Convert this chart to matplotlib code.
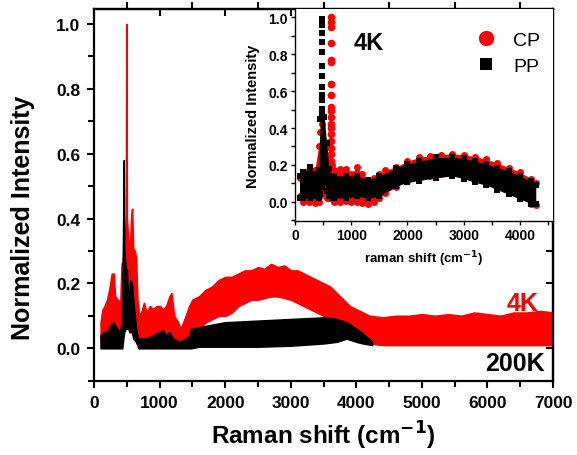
import matplotlib
matplotlib.use('Agg')
import matplotlib.pyplot as plt
from matplotlib.lines import Line2D
from matplotlib.ticker import MultipleLocator

plt.rcParams['font.family'] = ['Liberation Sans', 'DejaVu Sans']
plt.rcParams['font.weight'] = 'bold'

# main panel: 4K (red) band, upper / lower edge of the noisy trace
red_x = [100, 130, 160, 200, 240, 270, 300, 320, 360, 400, 420, 440, 470, 485, 492, 500,
         520, 545, 565, 580, 595, 620, 640, 660, 690, 720, 760, 800, 850, 900, 950, 1000,
         1050, 1100, 1150, 1180, 1220, 1280, 1320, 1380, 1450, 1500, 1600, 1700, 1800,
         1900, 2000, 2100, 2200, 2300, 2400, 2500, 2600, 2700, 2800, 2900, 3000, 3100,
         3200, 3300, 3400, 3500, 3600, 3700, 3800, 3900, 4000, 4100, 4200, 4400, 4600,
         4800, 5000, 5200, 5400, 5600, 5800, 6000, 6200, 6400, 6600, 6800, 7000]
red_hi = [0.08, 0.12, 0.13, 0.15, 0.19, 0.23, 0.23, 0.16, 0.15, 0.14, 0.26, 0.27, 0.35, 0.40, 1.00, 0.40,
          0.34, 0.30, 0.40, 0.43, 0.31, 0.30, 0.28, 0.15, 0.10, 0.11, 0.14, 0.11, 0.13, 0.12, 0.13, 0.13,
          0.12, 0.13, 0.16, 0.17, 0.10, 0.08, 0.06, 0.09, 0.13, 0.15, 0.16, 0.18, 0.19,
          0.21, 0.22, 0.22, 0.23, 0.24, 0.24, 0.25, 0.245, 0.26, 0.25, 0.255, 0.24, 0.24,
          0.23, 0.22, 0.21, 0.20, 0.19, 0.17, 0.15, 0.13, 0.12, 0.11, 0.10, 0.095, 0.10,
          0.10, 0.105, 0.10, 0.105, 0.10, 0.11, 0.105, 0.10, 0.11, 0.11, 0.115, 0.11]
red_lo = [0.02, 0.02, 0.02, 0.02, 0.02, 0.02, 0.02, 0.02, 0.02, 0.02, 0.05, 0.05, 0.06, 0.08, 0.08, 0.08,
          0.06, 0.05, 0.07, 0.07, 0.06, 0.06, 0.04, 0.02, 0.00, 0.01, 0.01, 0.01, 0.01, 0.01, 0.01, 0.01,
          0.01, 0.01, 0.01, 0.01, 0.01, 0.01, 0.01, 0.02, 0.04, 0.05, 0.06, 0.08, 0.09,
          0.10, 0.10, 0.11, 0.13, 0.14, 0.15, 0.15, 0.155, 0.16, 0.16, 0.155, 0.15, 0.14,
          0.13, 0.12, 0.11, 0.10, 0.085, 0.07, 0.055, 0.04, 0.03, 0.02, 0.015, 0.01, 0.01,
          0.01, 0.01, 0.01, 0.01, 0.01, 0.01, 0.01, 0.01, 0.01, 0.01, 0.01, 0.01]

# main panel: 200K (black) band
blk_x = [100, 150, 200, 250, 300, 350, 400, 430, 445, 452, 460, 480, 500, 520, 540, 555,
         575, 600, 640, 680, 700, 800, 900, 1000, 1050, 1100, 1150, 1200, 1300, 1400,
         1450, 1480, 1600, 2000, 2500, 3000, 3500, 3700, 3850, 4000, 4100, 4240]
blk_hi = [0.04, 0.05, 0.05, 0.07, 0.08, 0.06, 0.05, 0.10, 0.40, 0.58, 0.30, 0.25, 0.24, 0.14, 0.18, 0.21,
          0.20, 0.14, 0.06, 0.02, 0.03, 0.03, 0.04, 0.05, 0.055, 0.04, 0.05, 0.03, 0.02, 0.03,
          0.04, 0.06, 0.065, 0.08, 0.085, 0.09, 0.095, 0.09, 0.08, 0.06, 0.045, 0.02]
blk_lo = [0.0, 0.0, 0.0, 0.0, 0.0, 0.0, 0.0, 0.0, 0.03, 0.04, 0.05, 0.06, 0.06, 0.07, 0.05, 0.05,
          0.05, 0.03, 0.02, 0.0, 0.0, 0.0, 0.0, 0.0, 0.0, 0.0, 0.0, 0.0, 0.0, 0.0,
          0.0, 0.0, 0.005, 0.005, 0.005, 0.008, 0.015, 0.02, 0.03, 0.02, 0.015, 0.01]

# inset: CP and PP bands at 4K
cp_x = [80, 150, 250, 350, 420, 450, 480, 520, 560, 600, 650, 700, 800, 900, 1000, 1100,
        1200, 1300, 1400, 1500, 1600, 1800, 2000, 2200, 2400, 2600, 2800, 3000, 3200,
        3400, 3600, 3800, 4000, 4200, 4280]
cp_hi = [0.13, 0.16, 0.17, 0.17, 0.30, 0.38, 0.42, 0.33, 0.30, 0.25, 0.20, 0.17, 0.175, 0.18, 0.15, 0.19,
         0.15, 0.12, 0.13, 0.15, 0.17, 0.19, 0.22, 0.24, 0.25, 0.255, 0.26, 0.255, 0.245,
         0.23, 0.21, 0.185, 0.16, 0.125, 0.10]
cp_lo = [0.03, 0.0, 0.0, -0.005, 0.0, 0.03, 0.05, 0.05, 0.02, 0.02, 0.02, 0.0, 0.0, 0.005, 0.0, 0.0,
         -0.005, -0.01, 0.0, 0.02, 0.045, 0.08, 0.115, 0.13, 0.14, 0.15, 0.155, 0.14, 0.12,
         0.105, 0.08, 0.055, 0.03, -0.01, -0.02]
pp_x = [80, 150, 270, 350, 420, 450, 480, 520, 560, 600, 650, 700, 900, 1100, 1300, 1500,
        1800, 2000, 2200, 2500, 2800, 3000, 3200, 3400, 3600, 3800, 4000, 4200, 4280]
pp_hi = [0.14, 0.16, 0.19, 0.15, 0.17, 0.45, 0.48, 0.46, 0.32, 0.18, 0.13, 0.14, 0.14, 0.14, 0.12, 0.14,
         0.185, 0.205, 0.22, 0.24, 0.24, 0.235, 0.22, 0.205, 0.185, 0.165, 0.14, 0.11, 0.09]
pp_lo = [0.02, 0.02, 0.02, 0.03, 0.02, 0.04, 0.08, 0.10, 0.06, 0.03, 0.02, 0.02, 0.02, 0.03, 0.02, 0.03,
         0.085, 0.105, 0.115, 0.13, 0.14, 0.125, 0.105, 0.09, 0.065, 0.04, 0.015, -0.01, -0.015]

# stacked points of the sharp peaks in the inset
cp_peak_x = 640
cp_peak_y = [0.22, 0.26, 0.29, 0.33, 0.37, 0.40, 0.42, 0.46, 0.49, 0.515, 0.58,
             0.64, 0.76, 0.77, 0.86, 0.95, 0.975, 1.0]
pp_peak_x = 488
pp_peak_y = [0.505, 0.55, 0.58, 0.62, 0.68, 0.735, 0.81, 0.865, 0.915, 0.96, 0.99]

fig = plt.figure(figsize=(5.77, 4.56), dpi=100)
ax = fig.add_axes([0.163, 0.163, 0.7955, 0.815])

ax.fill_between(red_x, red_lo, red_hi, color='#ff0000', lw=1.2, edgecolor='#ff0000')
ax.fill_between(blk_x, blk_lo, blk_hi, color='black', lw=1.2, edgecolor='black')

ax.set_xlim(0, 7000)
ax.set_ylim(-0.1, 1.046)
ax.xaxis.set_major_locator(MultipleLocator(1000))
ax.xaxis.set_minor_locator(MultipleLocator(500))
ax.yaxis.set_major_locator(MultipleLocator(0.2))
ax.yaxis.set_minor_locator(MultipleLocator(0.1))
ax.yaxis.set_major_formatter(plt.FormatStrFormatter('%.1f'))
ax.tick_params(which='major', direction='out', length=5, width=1.5, labelsize=12.5, pad=5)
ax.tick_params(which='minor', direction='out', length=4, width=1.5)
for s in ax.spines.values():
    s.set_linewidth(1.6)

top = ax.secondary_xaxis('top')
top.xaxis.set_major_locator(MultipleLocator(1000))
top.xaxis.set_minor_locator(MultipleLocator(500))
top.tick_params(which='major', direction='in', length=5, width=1.5, labeltop=False)
top.tick_params(which='minor', direction='out', length=5, width=1.5)
top.spines['top'].set_linewidth(1.6)
right = ax.secondary_yaxis('right')
right.yaxis.set_major_locator(MultipleLocator(0.2))
right.yaxis.set_minor_locator(MultipleLocator(0.1))
right.tick_params(which='both', direction='in', length=5, width=1.5, labelright=False)
right.spines['right'].set_linewidth(1.6)

ax.set_xlabel('Raman shift (cm$^{\\mathbf{-1}}$)', fontsize=17.5, fontweight='bold', labelpad=7)
ax.set_ylabel('Normalized Intensity', fontsize=18, fontweight='bold')
ax.yaxis.set_label_coords(-0.128, 0.44)

ax.text(6776, 0.14, '4K', color='#ff0000', fontsize=18, fontweight='bold', ha='right', va='center')
ax.text(6880, -0.045, '200K', color='black', fontsize=18, fontweight='bold', ha='right', va='center')

# inset: CP underneath, PP on top
axi = fig.add_axes([0.5113, 0.5138, 0.447, 0.464])
axi.fill_between(cp_x, cp_lo, cp_hi, color='#ff0000', lw=0, zorder=1)
axi.plot(cp_x, cp_hi, 'o', color='#ff0000', ms=5, mew=0, zorder=1.1)
axi.plot(cp_x, cp_lo, 'o', color='#ff0000', ms=5, mew=0, zorder=1.1)
axi.plot([cp_peak_x] * len(cp_peak_y), cp_peak_y, 'o', color='#ff0000', ms=5.5, mew=0, zorder=1.1)
axi.fill_between(pp_x, pp_lo, pp_hi, color='black', lw=0, zorder=1.2)
axi.plot(pp_x, pp_hi, 's', color='black', ms=3.8, mew=0, zorder=1.3)
axi.plot(pp_x, pp_lo, 's', color='black', ms=3.8, mew=0, zorder=1.3)
axi.plot([pp_peak_x] * len(pp_peak_y), pp_peak_y, 's', color='black', ms=3.8, mew=0, zorder=1.3)

axi.set_xlim(0, 4587)
axi.set_ylim(-0.103, 1.045)
axi.xaxis.set_major_locator(MultipleLocator(1000))
axi.xaxis.set_minor_locator(MultipleLocator(500))
axi.yaxis.set_major_locator(MultipleLocator(0.2))
axi.yaxis.set_minor_locator(MultipleLocator(0.1))
axi.yaxis.set_major_formatter(plt.FormatStrFormatter('%.1f'))
axi.tick_params(which='major', direction='out', length=3, width=1, labelsize=10, pad=2)
axi.tick_params(which='minor', direction='out', length=3, width=1)
axi.spines['top'].set_visible(False)
axi.spines['right'].set_visible(False)
axi.spines['left'].set_linewidth(1)
axi.spines['bottom'].set_linewidth(1)
axi.set_xlabel('raman shift (cm$^{\\mathbf{-1}}$)', fontsize=9.5, fontweight='bold', labelpad=5)
axi.set_ylabel('Normalized Intensity', fontsize=10.5, fontweight='bold', labelpad=6)
axi.text(1316, 0.864, '4K', fontsize=17, fontweight='bold', ha='center', va='center')

handles = [Line2D([], [], ls='none', marker='o', color='#ff0000', ms=11, mew=0),
           Line2D([], [], ls='none', marker='s', color='black', ms=8, mew=0)]
axi.legend(handles, ['CP', 'PP'], loc='center', frameon=False,
           prop={'size': 14, 'weight': 'normal'}, handlelength=1.0, handletextpad=0.9,
           labelspacing=0.45, bbox_to_anchor=(0.826, 0.792), borderaxespad=0)

fig.savefig('out.png', dpi=100)
